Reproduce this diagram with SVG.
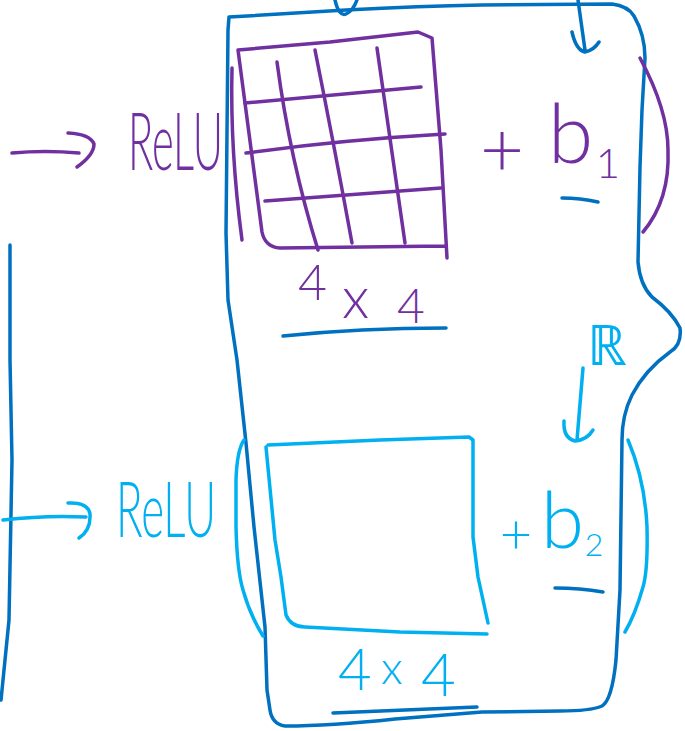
<svg xmlns="http://www.w3.org/2000/svg" width="685" height="731" viewBox="0 0 685 731">
<style>
.ink{fill:none;stroke-width:3.5;stroke-linecap:round;stroke-linejoin:round}
.p{stroke:#7030A0}.d{stroke:#0070C0}.l{stroke:#00B0F0}
.t{font-family:Lato,"DejaVu Sans","Liberation Sans",sans-serif;font-weight:300}
.tp{fill:#7030A0}.tl{fill:#00B0F0}
</style>
<rect width="685" height="731" fill="#fff"/>
<g id="outline">
<path class="ink d" d="M229 17 L346 10 Q420 6 482 5 L612 4 Q628 6 634 16 Q645 35 645 58 L642 110 L640 167 L638 262 Q640 285 652 297 Q672 312 680 328 Q682 345 670 352 Q645 370 632 395 Q622 415 622 440 L620 590 L616 660 Q612 700 602 706 Q590 711 560 711 L482 712 L395 719 Q330 726 285 726 Q272 724 270 710 L267 690 L265 627 L254 527 L246 443 L237 360 L228 300 L226 233 L228 30 Z"/>
<path class="ink d" d="M335 0 Q339 17 346 14 Q353 11 357 0"/>
<path class="ink d" d="M10 245 L10 360 L12 460 L9 620 L1 700"/>
</g>
<g id="connectors">
<path class="ink d" d="M578 0 L585 50 M572 32 Q576 50 585 52 Q594 50 599 42"/>
<path class="ink p" d="M12 153 Q45 150 79 153 M68 133 Q90 134 94 144 Q94 155 77 167"/>
<path class="ink l" d="M583 368 L577 440 M564 421 Q563 438 575 441 Q587 440 593 430"/>
<path class="ink l" d="M3 520 Q45 515 86 517 M68 503 Q88 502 90 514 Q91 530 79 538"/>
</g>
<g id="layer1">
<text class="t tp" x="128" y="170" font-size="80" textLength="95" lengthAdjust="spacingAndGlyphs">ReLU</text>
<path class="ink p" d="M232 68 Q230 150 242 240"/>
<g id="matrix1">
<path class="ink p" d="M238 50 L330 42 L418 32 L432 38 L441 150 L447 258 M238 50 L262 232 Q265 247 280 248 L445 246"/>
<path class="ink p" d="M245 103 Q330 95 421 87 M246 153 Q340 140 445 134 M265 201 Q350 195 441 188"/>
<path class="ink p" d="M277 62 Q290 160 318 250 M315 50 Q335 150 352 243 M377 48 Q392 150 405 243"/>
</g>
<text class="t tp" x="502" y="176" font-size="76" text-anchor="middle">+</text>
<text class="t tp" x="548" y="163" font-size="82">b</text>
<text class="t tp" x="608" y="178" font-size="42" text-anchor="middle">1</text>
<path class="ink p" d="M640 58 Q668 110 668 150 Q670 200 643 232"/>
<path class="ink d" d="M562 198 Q580 198 598 202"/>
<text class="t tp"><tspan x="298" y="300" font-size="50">4</tspan><tspan x="342" y="318" font-size="58">x</tspan><tspan x="397" y="323" font-size="48">4</tspan></text>
<path class="ink d" d="M283 336 Q360 328 446 328"/>
</g>
<g id="layer2">
<text class="t tl" x="587" y="365" font-size="56">ℝ</text>
<text class="t tl" x="116" y="537" font-size="76" textLength="100" lengthAdjust="spacingAndGlyphs">ReLU</text>
<path class="ink l" d="M244 440 Q237 450 236 480 L236 527 Q237 570 243 590 Q250 615 263 636"/>
<g id="matrix2">
<path class="ink l" d="M268 445 L380 440 L469 437 L473 440 L473 537 L478 577 L488 623 M266 447 L275 540 L281 577 L286 615 Q291 627 305 627 L400 632 L487 634"/>
</g>
<text class="t tl" x="516" y="554" font-size="56" text-anchor="middle">+</text>
<text class="t tl" x="541" y="548" font-size="78">b</text>
<text class="t tl" x="594" y="556" font-size="32" text-anchor="middle">2</text>
<path class="ink l" d="M628 440 Q645 480 647 527 Q648 570 643 587 Q635 615 625 632"/>
<path class="ink d" d="M555 588 Q580 588 603 592"/>
<text class="t tl"><tspan x="338" y="690" font-size="58">4</tspan><tspan x="381" y="684" font-size="46">x</tspan><tspan x="421" y="696" font-size="60">4</tspan></text>
<path class="ink d" d="M333 713 Q400 710 477 707"/>
</g>
</svg>
